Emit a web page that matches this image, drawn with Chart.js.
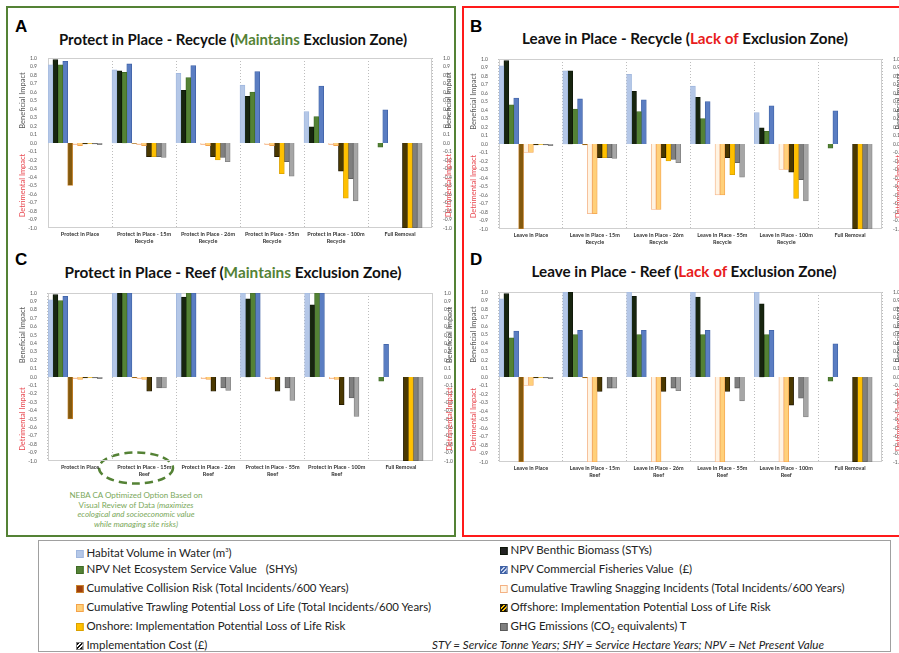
<!DOCTYPE html>
<html>
<head>
<meta charset="utf-8">
<script src="https://cdn.jsdelivr.net/npm/chart.js@4.4.1/dist/chart.umd.min.js"></script>
<style>
body{margin:0;width:899px;height:653px;overflow:hidden;background:#fff;position:relative;font-family:Lato,sans-serif}
.box{position:absolute;box-sizing:border-box;border:2px solid}
.letter{position:absolute;font:bold 17px "Liberation Sans",Arial,sans-serif;color:#000}
.title{position:absolute;font:bold 15px Lato,sans-serif;white-space:nowrap;color:#111;transform-origin:center top}
canvas{position:absolute}
.lg{position:absolute;font:12px Lato,sans-serif;color:#222;white-space:nowrap;line-height:14px;transform-origin:left center}
.sq{display:inline-block;width:8px;height:8px;margin-right:3px;box-sizing:border-box;border:1px solid;vertical-align:-0.5px}
.neba{position:absolute;font:8px Lato,sans-serif;color:#7aa85a;text-align:center;width:200px;line-height:9.7px}
</style>
</head>
<body>
<div class="box" style="left:6px;top:6px;width:450px;height:531px;border-color:#548235"></div>
<div class="box" style="left:462px;top:6px;width:440px;height:531px;border-color:#ff1a1a"></div>

<div class="letter" style="left:15px;top:17px">A</div>
<div class="letter" style="left:470px;top:17px">B</div>
<div class="letter" style="left:15px;top:250px">C</div>
<div class="letter" style="left:470px;top:250px">D</div>

<div class="title" id="tA" style="left:233px;top:30px">Protect in Place - Recycle (<span style="color:#548235">Maintains</span> Exclusion Zone)</div>
<div class="title" id="tB" style="left:685px;top:29px">Leave in Place - Recycle (<span style="color:#e81c1c">Lack of</span> Exclusion Zone)</div>
<div class="title" id="tC" style="left:233px;top:263px">Protect in Place - Reef (<span style="color:#548235">Maintains</span> Exclusion Zone)</div>
<div class="title" id="tD" style="left:684px;top:262px">Leave in Place - Reef (<span style="color:#e81c1c">Lack of</span> Exclusion Zone)</div>

<svg style="position:absolute;left:0;top:0" width="899" height="653">
  <ellipse cx="136" cy="468" rx="37" ry="15.5" fill="none" stroke="#548235" stroke-width="2.5" stroke-dasharray="8 5"/>
</svg>
<div class="neba" style="left:36px;top:491px">NEBA CA Optimized Option Based on<br>Visual Review of Data <i>(maximizes<br>ecological and socioeconomic value<br>while managing site risks)</i></div>

<div class="box" style="left:38px;top:540px;width:853px;height:112px;border:1px solid #a0a0a0"></div>
<div id="legend"></div>

<script>
// categories
const catsA = [["Protect in Place"], ["Protect in Place - 15m", "Recycle"], ["Protect in Place - 26m", "Recycle"], ["Protect in Place - 55m", "Recycle"], ["Protect in Place - 100m", "Recycle"], ["Full Removal"]];
const catsB = [["Leave in Place"], ["Leave in Place - 15m", "Recycle"], ["Leave in Place - 26m", "Recycle"], ["Leave in Place - 55m", "Recycle"], ["Leave in Place - 100m", "Recycle"], ["Full Removal"]];
const catsC = [["Protect in Place"], ["Protect in Place - 15m", "Reef"], ["Protect in Place - 26m", "Reef"], ["Protect in Place - 55m", "Reef"], ["Protect in Place - 100m", "Reef"], ["Full Removal"]];
const catsD = [["Leave in Place"], ["Leave in Place - 15m", "Reef"], ["Leave in Place - 26m", "Reef"], ["Leave in Place - 55m", "Reef"], ["Leave in Place - 100m", "Reef"], ["Full Removal"]];

const seriesNames = [
  "Habitat Volume in Water (m3)",
  "NPV Benthic Biomass (STYs)",
  "NPV Net Ecosystem Service Value (SHYs)",
  "NPV Commercial Fisheries Value (£)",
  "Cumulative Collision Risk (Total Incidents/600 Years)",
  "Cumulative Trawling Snagging Incidents (Total Incidents/600 Years)",
  "Cumulative Trawling Potential Loss of Life (Total Incidents/600 Years)",
  "Offshore: Implementation Potential Loss of Life Risk",
  "Onshore: Implementation Potential Loss of Life Risk",
  "GHG Emissions (CO2 equivalents) T",
  "Implementation Cost (£)"
];

// one row per series, one value per category
const valuesA = [
  [0.92, 0.86, 0.82, 0.68, 0.37, null],
  [0.98, 0.85, 0.62, 0.55, 0.19, null],
  [0.92, 0.83, 0.77, 0.60, 0.31, -0.05],
  [0.96, 0.93, 0.91, 0.84, 0.67, 0.39],
  [-0.50, -0.005, null, null, null, null],
  [-0.02, -0.02, -0.02, -0.02, -0.02, null],
  [-0.03, -0.03, -0.03, -0.03, -0.03, null],
  [-0.01, -0.16, -0.16, -0.16, -0.33, -1.0],
  [-0.005, -0.16, -0.20, -0.36, -0.65, -1.0],
  [-0.01, -0.16, -0.17, -0.22, -0.42, -1.0],
  [-0.02, -0.17, -0.22, -0.39, -0.68, -1.0]
];
const valuesB = [
  [0.92, 0.86, 0.82, 0.68, 0.37, null],
  [0.98, 0.86, 0.62, 0.55, 0.19, null],
  [0.46, 0.41, 0.38, 0.30, 0.15, -0.05],
  [0.54, 0.53, 0.52, 0.50, 0.45, 0.39],
  [-1.0, -0.01, null, null, null, null],
  [-0.10, -0.82, -0.77, -0.60, -0.30, null],
  [-0.10, -0.82, -0.77, -0.60, -0.30, null],
  [-0.01, -0.16, -0.16, -0.16, -0.33, -1.0],
  [-0.005, -0.16, -0.20, -0.36, -0.64, -1.0],
  [-0.01, -0.16, -0.18, -0.22, -0.42, -1.0],
  [-0.02, -0.17, -0.22, -0.39, -0.67, -1.0]
];
const valuesC = [
  [0.92, 1.0, 1.0, 1.0, 1.0, null],
  [0.98, 1.0, 0.95, 0.93, 0.86, null],
  [0.91, 1.0, 1.0, 1.0, 1.0, -0.05],
  [0.96, 1.0, 1.0, 1.0, 1.0, 0.39],
  [-0.50, -0.01, null, null, null, null],
  [-0.02, -0.02, -0.02, -0.02, -0.02, null],
  [-0.03, -0.03, -0.03, -0.03, -0.03, null],
  [-0.01, -0.17, -0.17, -0.17, -0.33, -1.0],
  [-0.005, null, null, null, null, -1.0],
  [-0.01, -0.13, -0.13, -0.13, -0.25, -1.0],
  [-0.02, -0.13, -0.16, -0.28, -0.47, -1.0]
];
const valuesD = [
  [0.92, 1.0, 1.0, 1.0, 1.0, null],
  [0.98, 1.0, 0.95, 0.94, 0.86, null],
  [0.46, 0.50, 0.50, 0.50, 0.50, -0.05],
  [0.54, 0.55, 0.55, 0.55, 0.55, 0.39],
  [-1.0, -0.01, null, null, null, null],
  [-0.10, -1.0, -1.0, -1.0, -1.0, null],
  [-0.10, -1.0, -1.0, -1.0, -1.0, null],
  [-0.01, -0.17, -0.17, -0.17, -0.33, -1.0],
  [-0.005, null, null, null, null, -1.0],
  [-0.01, -0.13, -0.13, -0.13, -0.25, -1.0],
  [-0.02, -0.13, -0.16, -0.28, -0.47, -1.0]
];

const fills = ['#b4c7e7', '#17250f', '#548235', '#5a7dc2', '#845a0e', '#fff4e3', '#ffd07a', '#4a3800', '#ffc000', '#7f7f7f', '#a6a6a6'];
const edges = ['#9fb6de', '#0c1507', '#3f6a25', '#3f62a6', '#c9822a', '#f4b183', '#f4a24a', '#1e1600', '#d9a000', '#595959', '#808080'];
const legendFills = ['#b4c7e7', '#222', '#548235', 'repeating-linear-gradient(135deg,#3f62a6 0 2px,#c8d4ee 2px 3px)', '#a0400c', '#fff4e3', '#ffd07a', 'repeating-linear-gradient(135deg,#111 0 2px,#ffc000 2px 3px)', '#ffc000', '#7f7f7f', 'repeating-linear-gradient(135deg,#111 0 2px,#fff 2px 3px)'];

const framePlugin = {
  id: 'frame',
  beforeDatasetsDraw(chart) {
    const {ctx, chartArea: a} = chart;
    ctx.save();
    ctx.strokeStyle = '#cfcfcf';
    ctx.lineWidth = 1;
    ctx.strokeRect(Math.round(a.left) + 0.5, Math.round(a.top) + 0.5, Math.round(a.width) - 1, Math.round(a.height) - 1);
    ctx.restore();
  },
  afterDraw(chart) {
    const {ctx, chartArea: a, scales} = chart;
    const yb = scales.y.getPixelForValue(0.5);
    const yd = scales.y.getPixelForValue(-0.5);
    ctx.save();
    ctx.font = '7.5px Lato';
    ctx.textAlign = 'center';
    ctx.textBaseline = 'middle';
    [a.left - 25, a.right + 17].forEach(x => {
      [[yb, 'Beneficial Impact', '#595959'], [yd, 'Detrimental Impact', '#e8474f']].forEach(t => {
        ctx.save();
        ctx.translate(x, t[0]);
        ctx.rotate(-Math.PI / 2);
        ctx.fillStyle = t[2];
        ctx.fillText(t[1], 0, 0);
        ctx.restore();
      });
    });
    ctx.restore();
  }
};

function makeChart(left, top, width, height, cats, values) {
  const cv = document.createElement('canvas');
  cv.width = width; cv.height = height;
  cv.style.left = left + 'px'; cv.style.top = top + 'px';
  cv.style.width = width + 'px'; cv.style.height = height + 'px';
  document.body.appendChild(cv);

  const datasets = values.map((vals, i) => ({
    label: seriesNames[i],
    data: vals,
    backgroundColor: fills[i],
    borderColor: edges[i],
    borderWidth: 0.8,
    yAxisID: 'y'
  }));
  // two empty slots, Excel leaves room after each group
  datasets.push({label: '', data: cats.map(() => null)}, {label: '', data: cats.map(() => null)});

  const yTicks = {
    stepSize: 0.1, autoSkip: false, padding: 3, color: '#555',
    font: {size: 5, family: 'Lato'},
    callback: v => (Math.abs(v) < 1e-9 ? 0 : v).toFixed(1)
  };

  new Chart(cv, {
    type: 'bar',
    data: {labels: cats, datasets: datasets},
    options: {
      responsive: false,
      animation: false,
      events: [],
      layout: {padding: {top: 8, left: 0, right: 0, bottom: 0}},
      datasets: {bar: {barPercentage: 1, categoryPercentage: 1}},
      plugins: {legend: {display: false}, tooltip: {enabled: false}},
      scales: {
        x: {
          grid: {display: true, offset: true, color: '#bdbdbd', drawTicks: false},
          border: {display: false, dash: [1, 2]},
          ticks: {autoSkip: false, maxRotation: 0, padding: 3, color: '#333', font: {size: 5.5, weight: 'bold', family: 'Lato'}},
          afterFit: s => { s.height = 22; }
        },
        y: {
          position: 'left', min: -1, max: 1,
          grid: {display: false}, border: {display: false},
          ticks: yTicks,
          afterFit: s => { s.width = 34; }
        },
        y2: {
          position: 'right', min: -1, max: 1,
          grid: {display: false}, border: {display: false},
          ticks: yTicks,
          afterFit: s => { s.width = 22; }
        }
      }
    },
    plugins: [framePlugin]
  });
}

makeChart(14, 50, 440, 200, catsA, valuesA);
makeChart(465, 51, 439, 200, catsB, valuesB);
makeChart(14, 285, 441, 198, catsC, valuesC);
makeChart(465, 284, 439, 200, catsD, valuesD);

// legend
const legendPos = [
  [0, 76, 543], [1, 500, 543],
  [2, 76, 562], [3, 500, 562],
  [4, 76, 581], [5, 500, 581],
  [6, 76, 600], [7, 500, 600],
  [8, 76, 619], [9, 500, 619],
  [10, 76, 638]
];
const legendText = [
  'Habitat Volume in Water (m<sup style="font-size:6px">3</sup>)',
  'NPV Benthic Biomass (STYs)',
  'NPV Net Ecosystem Service Value&nbsp;&nbsp; (SHYs)',
  'NPV Commercial Fisheries Value&nbsp; (£)',
  'Cumulative Collision Risk (Total Incidents/600 Years)',
  'Cumulative Trawling Snagging Incidents (Total Incidents/600 Years)',
  'Cumulative Trawling Potential Loss of Life (Total Incidents/600 Years)',
  'Offshore: Implementation Potential Loss of Life Risk',
  'Onshore: Implementation Potential Loss of Life Risk',
  'GHG Emissions (CO<sub style="font-size:7px">2</sub> equivalents) T',
  'Implementation Cost (£)'
];
const lg = document.getElementById('legend');
const items = [];
legendPos.forEach(p => {
  const i = p[0];
  const d = document.createElement('div');
  d.className = 'lg';
  d.style.left = p[1] + 'px';
  d.style.top = p[2] + 'px';
  d.innerHTML = '<span class="sq" style="background:' + legendFills[i] + ';border-color:' + edges[i] + '"></span>' + legendText[i];
  lg.appendChild(d);
  items.push(d);
});
const note = document.createElement('div');
note.className = 'lg';
note.style.left = '432px';
note.style.top = '638px';
note.style.fontStyle = 'italic';
note.textContent = 'STY = Service Tonne Years; SHY = Service Hectare Years; NPV = Net Present Value';
lg.appendChild(note);

// Calibri in the original is narrow: squeeze the legend text the same way
const k = 355 / items[6].getBoundingClientRect().width;
items.forEach(d => { d.style.transform = 'scaleX(' + k + ')'; });
note.style.transform = 'scaleX(' + (392 / note.getBoundingClientRect().width) + ')';

// squeeze titles to the width they take in the figure
const titleWidths = {tA: 348, tB: 326, tC: 337, tD: 305};
Object.keys(titleWidths).forEach(id => {
  const el = document.getElementById(id);
  const w = el.getBoundingClientRect().width;
  el.style.transform = 'translateX(-50%) scaleX(' + (titleWidths[id] / w) + ')';
});
</script>
</body>
</html>
